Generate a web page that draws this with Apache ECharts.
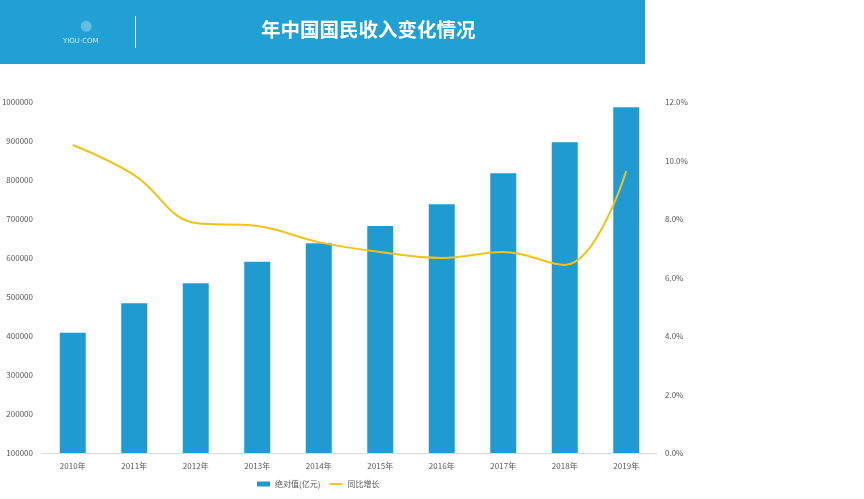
<!DOCTYPE html>
<html><head><meta charset="utf-8">
<script src="https://cdn.jsdelivr.net/npm/echarts@6/dist/echarts.min.js"></script>
<style>html,body{margin:0;padding:0;background:#fff}#c{width:864px;height:499px}</style>
</head><body><div id="c"></div>
<script>
const categories = ['2010年','2011年','2012年','2013年','2014年','2015年','2016年','2017年','2018年','2019年'];
const absValues = [408500, 483800, 535000, 590500, 637700, 682000, 737700, 817000, 896700, 986400];
const growthValues = [10.53, 9.50, 7.86, 7.76, 7.21, 6.87, 6.67, 6.87, 6.43, 9.64];
const titleText = '年中国国民收入变化情况';
const seriesNames = ['绝对值(亿元)', '同比增长'];

const FF = '"Noto Sans CJK SC", "Noto Sans", sans-serif';
const chart = echarts.init(document.getElementById('c'));
chart.setOption({
  animation: false,
  backgroundColor: '#fff',
  graphic: [
    {type: 'rect', left: 0, top: 0, shape: {width: 645, height: 64}, style: {fill: '#21a0d6'}},
    {type: 'rect', left: 135, top: 16, shape: {width: 1, height: 32}, style: {fill: 'rgba(255,255,255,0.85)'}},
    {type: 'text', left: 63, top: 38, style: {text: 'YIOU·COM', fill: 'rgba(255,255,255,0.75)', font: '7px "DejaVu Sans"'}},
    {type: 'text', left: 80, top: 21, style: {text: '⬤', fill: 'rgba(255,255,255,0.3)', font: '11px "DejaVu Sans"'}},
    {type: 'text', left: 261, top: 20, style: {text: titleText, fill: '#ffffff', font: 'bold 19.5px ' + FF}}
  ],
  grid: {left: 42, right: 207, top: 102, bottom: 46, containLabel: false, outerBoundsMode: 'none'},
  legend: {
    left: 252, top: 475, itemGap: 9, itemWidth: 13, itemHeight: 5,
    textStyle: {fontFamily: FF, fontSize: 8, color: '#595959'},
    data: [{name: seriesNames[0], icon: 'rect'}, {name: seriesNames[1], icon: 'path://M0,4 L14,4 L14,6 L0,6 Z'}]
  },
  xAxis: {
    type: 'category', data: categories,
    axisLine: {lineStyle: {color: '#d9d9d9'}}, axisTick: {show: false},
    axisLabel: {fontFamily: FF, fontSize: 8, color: '#595959', margin: 9}
  },
  yAxis: [
    {type: 'value', min: 100000, max: 1000000, interval: 100000,
     splitLine: {show: false}, axisLine: {show: false}, axisTick: {show: false},
     axisLabel: {fontFamily: FF, fontSize: 8, color: '#595959', margin: 9, formatter: v => String(v)}},
    {type: 'value', min: 0, max: 12, interval: 2, position: 'right',
     splitLine: {show: false}, axisLine: {show: false}, axisTick: {show: false},
     axisLabel: {fontFamily: FF, fontSize: 8, color: '#595959', margin: 8,
       formatter: v => v.toFixed(1) + '%'}}
  ],
  series: [
    {name: seriesNames[0], type: 'bar', data: absValues, barWidth: 26,
     itemStyle: {color: '#1f9bd2'}},
    {name: seriesNames[1], type: 'line', yAxisIndex: 1, data: growthValues,
     smooth: 0.4, symbol: 'none', lineStyle: {color: '#f2c31b', width: 2}, itemStyle: {color: '#f2c31b'}}
  ]
});
</script></body></html>
